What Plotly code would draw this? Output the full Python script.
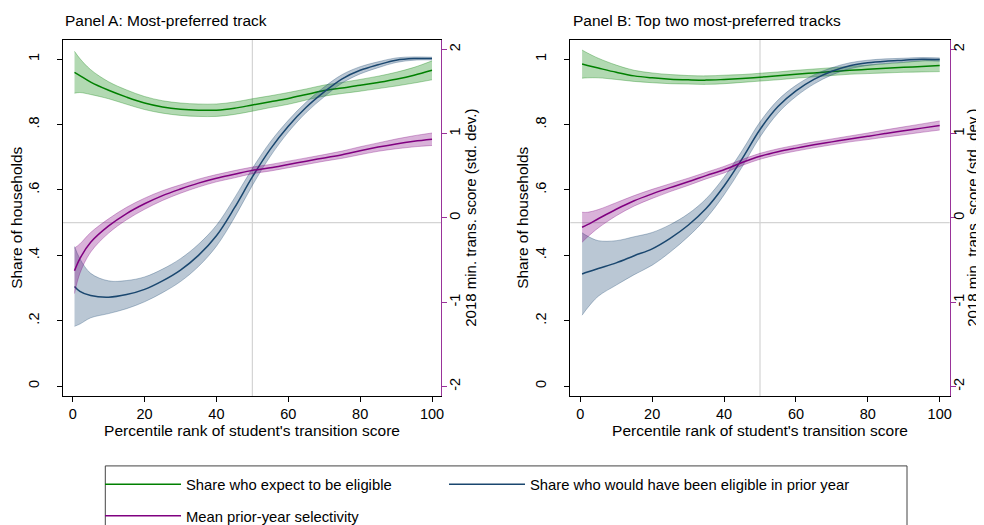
import plotly.graph_objects as go

# ---------------- data ----------------
pct = [0.5, 2, 5, 10, 15, 20, 25, 30, 35, 40, 45, 50, 55, 60, 65, 70, 75, 80, 85, 90, 95, 100]

# Panel A
greenA = [0.960, 0.950, 0.930, 0.905, 0.884, 0.866, 0.854, 0.847, 0.844, 0.844, 0.850, 0.860,
          0.870, 0.880, 0.892, 0.904, 0.912, 0.920, 0.929, 0.939, 0.951, 0.966]
greenA_hw = [0.064, 0.052, 0.038, 0.026, 0.022, 0.020, 0.019, 0.019, 0.019, 0.019, 0.019, 0.019,
             0.018, 0.018, 0.017, 0.017, 0.017, 0.018, 0.019, 0.021, 0.024, 0.029]
blueA = [0.305, 0.290, 0.277, 0.272, 0.280, 0.296, 0.322, 0.355, 0.400, 0.460, 0.545, 0.640,
         0.725, 0.795, 0.853, 0.900, 0.940, 0.966, 0.983, 0.997, 1.002, 1.002]
blueA_hw = [0.122, 0.100, 0.068, 0.050, 0.043, 0.038, 0.036, 0.035, 0.034, 0.032, 0.030, 0.026,
            0.022, 0.018, 0.016, 0.015, 0.013, 0.011, 0.009, 0.007, 0.005, 0.004]
purpleA = [-0.627, -0.483, -0.289, -0.095, 0.052, 0.168, 0.265, 0.343, 0.413, 0.471, 0.518, 0.564,
           0.595, 0.634, 0.673, 0.712, 0.750, 0.797, 0.840, 0.878, 0.909, 0.933]
purpleA_hw = [0.270, 0.175, 0.116, 0.085, 0.074, 0.066, 0.058, 0.050, 0.047, 0.043, 0.043, 0.039,
              0.039, 0.039, 0.039, 0.039, 0.043, 0.047, 0.050, 0.058, 0.066, 0.074]

# Panel B
greenB = [0.985, 0.981, 0.973, 0.960, 0.949, 0.943, 0.939, 0.937, 0.936, 0.938, 0.941, 0.945,
          0.949, 0.954, 0.958, 0.962, 0.966, 0.969, 0.972, 0.975, 0.978, 0.981]
greenB_hw = [0.043, 0.038, 0.030, 0.022, 0.017, 0.015, 0.014, 0.013, 0.013, 0.013, 0.012, 0.012,
             0.012, 0.012, 0.012, 0.012, 0.012, 0.013, 0.014, 0.015, 0.017, 0.019]
blueB = [0.343, 0.349, 0.360, 0.377, 0.399, 0.420, 0.452, 0.492, 0.543, 0.612, 0.695, 0.785,
         0.855, 0.903, 0.938, 0.963, 0.980, 0.989, 0.994, 0.997, 1.000, 0.999]
blueB_hw = [0.126, 0.110, 0.085, 0.068, 0.058, 0.050, 0.042, 0.035, 0.030, 0.027, 0.025, 0.023,
            0.020, 0.017, 0.014, 0.011, 0.009, 0.008, 0.007, 0.006, 0.005, 0.005]
purpleB = [-0.111, -0.080, -0.010, 0.103, 0.203, 0.285, 0.359, 0.428, 0.502, 0.572, 0.657, 0.731,
           0.785, 0.828, 0.867, 0.902, 0.937, 0.968, 1.002, 1.033, 1.065, 1.096]
purpleB_hw = [0.178, 0.147, 0.109, 0.078, 0.062, 0.054, 0.047, 0.043, 0.039, 0.039, 0.035, 0.035,
              0.035, 0.035, 0.035, 0.035, 0.035, 0.039, 0.043, 0.047, 0.050, 0.054]

x_ticks = [0, 20, 40, 60, 80, 100]
left_ticks = [0, 0.2, 0.4, 0.6, 0.8, 1]
left_labels = ["0", ".2", ".4", ".6", ".8", "1"]
right_ticks = [-2, -1, 0, 1, 2]
right_labels = ["-2", "-1", "0", "1", "2"]

names = ["Share who expect to be eligible", "Share who would have been eligible in prior year",
         "Mean prior-year selectivity"]
titles = ["Panel A: Most-preferred track", "Panel B: Top two most-preferred tracks"]
right_title = "2018 min. trans. score (std. dev.)"

# ---------------- style ----------------
FONT = "Helvetica, Liberation Sans, Arial, sans-serif"
W, H = 984, 525
GREEN = (0, 128, 0)
NAVY = (26, 71, 111)
PURPLE = (128, 0, 128)


def rgba(c, a):
    return "rgba(%d,%d,%d,%.2f)" % (c[0], c[1], c[2], a)


def px_x(p):
    return p / W


def px_y(p):
    return 1 - p / H


fig = go.Figure()


def add_series(xa, ya, mid, hw, col, name, legend, show):
    lo = [m - h for m, h in zip(mid, hw)]
    hi = [m + h for m, h in zip(mid, hw)]
    fig.add_trace(go.Scatter(x=pct, y=lo, xaxis=xa, yaxis=ya, mode="lines",
                             line=dict(color=rgba(col, 0.45), width=0.7, shape="spline"),
                             showlegend=False, hoverinfo="skip"))
    fig.add_trace(go.Scatter(x=pct, y=hi, xaxis=xa, yaxis=ya, mode="lines", fill="tonexty",
                             fillcolor=rgba(col, 0.30),
                             line=dict(color=rgba(col, 0.45), width=0.7, shape="spline"),
                             showlegend=False, hoverinfo="skip"))
    fig.add_trace(go.Scatter(x=pct, y=mid, xaxis=xa, yaxis=ya, mode="lines", name=name,
                             line=dict(color=rgba(col, 1), width=1.5, shape="spline"),
                             showlegend=show, legend=legend))


# Panel A
add_series("x", "y", greenA, greenA_hw, GREEN, names[0], "legend", True)
add_series("x", "y", blueA, blueA_hw, NAVY, names[1], "legend3", True)
add_series("x", "y2", purpleA, purpleA_hw, PURPLE, names[2], "legend2", True)
# Panel B
add_series("x2", "y3", greenB, greenB_hw, GREEN, names[0], "legend", False)
add_series("x2", "y3", blueB, blueB_hw, NAVY, names[1], "legend3", False)
add_series("x2", "y4", purpleB, purpleB_hw, PURPLE, names[2], "legend2", False)

y_dom = [px_y(394), px_y(32)]
xA_dom = [px_x(55), px_x(433)]
xB_dom = [px_x(562.3), px_x(941.7)]

tickfont = dict(family=FONT, size=14.5, color="black")
titlefont = dict(family=FONT, size=15.5, color="black")
rtitlefont = dict(family=FONT, size=15, color="black")
legfont = dict(family=FONT, size=14.8, color="black")

xcommon = dict(tickvals=x_ticks, ticks="outside", ticklen=5, tickwidth=1,
               tickcolor="black", showline=True, linecolor="black", linewidth=1.2, mirror=True,
               showgrid=False, zeroline=False, tickfont=tickfont,
               title=dict(text="Percentile rank of student's transition score", font=titlefont,
                          standoff=0),
               automargin=False)
ycommon = dict(domain=y_dom, range=[-0.0301, 1.0602], tickvals=left_ticks, ticktext=left_labels,
               ticks="outside", ticklen=5, tickwidth=1, tickcolor="black", showline=True,
               linecolor="black", linewidth=1.2, showgrid=False, zeroline=False,
               tickangle=-90, tickfont=tickfont, ticklabelstandoff=12,
               title=dict(text="Share of households", font=titlefont, standoff=0),
               automargin=False)
y2common = dict(range=[-2.112, 2.116], tickvals=right_ticks, ticktext=right_labels,
                side="right", ticks="outside", ticklen=5, tickwidth=1,
                tickcolor=rgba(PURPLE, 0.8), showline=True, linecolor=rgba(PURPLE, 0.8),
                linewidth=1.2, showgrid=False, zeroline=False, tickangle=-90,
                tickfont=tickfont, ticklabelstandoff=-5,
                automargin=False)

fig.update_layout(
    width=W, height=H,
    margin=dict(l=0, r=0, t=0, b=0),
    paper_bgcolor="white", plot_bgcolor="white",
    font=dict(family=FONT, size=14, color="black"),
    xaxis=dict(xcommon, domain=xA_dom, range=[-2.7, 102.5], anchor="y"),
    yaxis=dict(ycommon, anchor="x"),
    yaxis2=dict(y2common, overlaying="y", anchor="x"),
    xaxis2=dict(xcommon, domain=xB_dom, range=[-2.78, 102.78], anchor="y3"),
    yaxis3=dict(ycommon, anchor="x2"),
    yaxis4=dict(y2common, overlaying="y3", anchor="x2", ticklabelstandoff=-9),
    legend=dict(orientation="h", x=px_x(92), y=px_y(484), xanchor="left", yanchor="middle",
                itemwidth=76, traceorder="normal", font=legfont, bgcolor="rgba(0,0,0,0)"),
    legend3=dict(orientation="h", x=px_x(436), y=px_y(484), xanchor="left", yanchor="middle",
                 itemwidth=76, traceorder="normal", font=legfont, bgcolor="rgba(0,0,0,0)"),
    legend2=dict(orientation="h", x=px_x(92), y=px_y(516), xanchor="left", yanchor="middle",
                 itemwidth=76, traceorder="normal", font=legfont, bgcolor="rgba(0,0,0,0)"),
    showlegend=True,
)

# reference lines
for xa, ya in (("x", "y"), ("x2", "y3")):
    fig.add_shape(type="line", xref=xa, yref=ya + " domain", x0=50, x1=50, y0=0, y1=1,
                  line=dict(color="#d4d4d4", width=1.2), layer="below")
    fig.add_shape(type="line", xref=xa + " domain", yref=ya, x0=0, x1=1, y0=0.5, y1=0.5,
                  line=dict(color="#d4d4d4", width=1.2), layer="below")

# legend frame
fig.add_shape(type="rect", xref="paper", yref="paper", x0=px_x(97.3), x1=px_x(899),
              y0=px_y(540), y1=px_y(465), line=dict(color="#444", width=1), layer="below")

# panel titles
fig.add_annotation(text=titles[0], xref="paper", yref="paper", x=px_x(55), y=px_y(13),
                   xanchor="left", yanchor="middle", showarrow=False, font=titlefont)
fig.add_annotation(text=titles[1], xref="paper", yref="paper", x=px_x(563), y=px_y(13),
                   xanchor="left", yanchor="middle", showarrow=False, font=titlefont)

# right-axis titles
for xc in (463, 965):
    fig.add_annotation(text=right_title, xref="paper", yref="paper", x=px_x(xc), y=px_y(213),
                       xanchor="center", yanchor="middle", textangle=-90, showarrow=False,
                       font=rtitlefont)

fig.write_html("out.html")
